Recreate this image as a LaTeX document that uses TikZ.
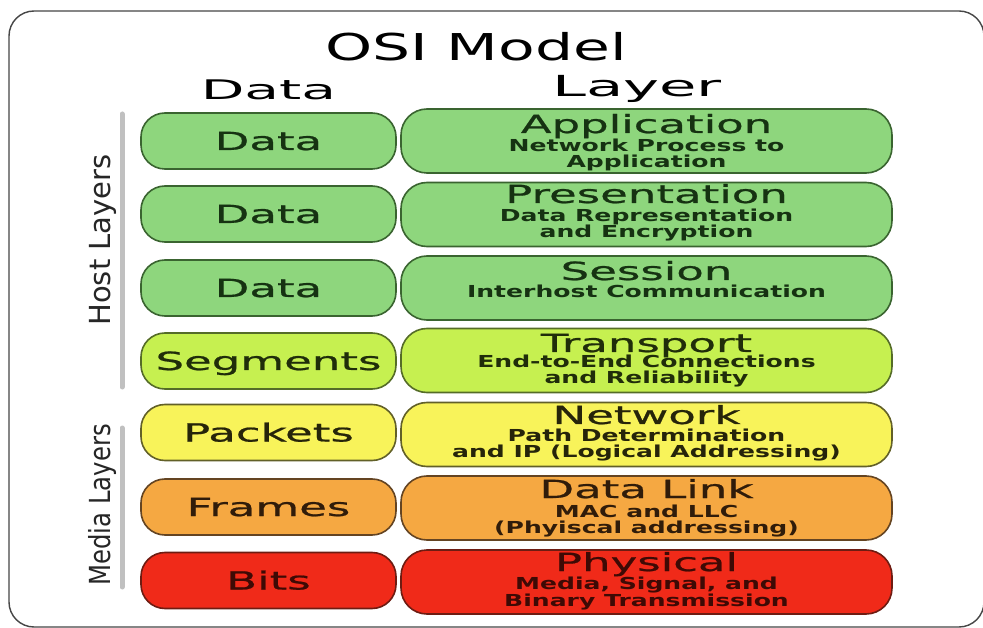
\documentclass[tikz,border=0pt]{standalone}
\usepackage{fontspec}
\setmainfont{DejaVu Sans}
\newfontfamily\fTitle[FakeStretch=1.62]{DejaVu Sans}
\newfontfamily\fHead[FakeStretch=2.1]{DejaVu Sans}
\newfontfamily\fBox[FakeStretch=1.8,FakeBold=0.8]{DejaVu Sans}
\newfontfamily\fSub[FakeStretch=1.52]{DejaVu Sans}
\newfontfamily\fSide{DejaVu Sans}
\definecolor{grF}{RGB}{142,214,125}\definecolor{grB}{RGB}{58,100,48}\definecolor{grT}{RGB}{22,50,18}
\definecolor{liF}{RGB}{198,240,80}\definecolor{liB}{RGB}{85,108,40}\definecolor{liT}{RGB}{32,45,10}
\definecolor{yeF}{RGB}{248,243,90}\definecolor{yeB}{RGB}{98,96,40}\definecolor{yeT}{RGB}{38,36,10}
\definecolor{orF}{RGB}{245,168,66}\definecolor{orB}{RGB}{100,68,34}\definecolor{orT}{RGB}{48,28,10}
\definecolor{rdF}{RGB}{240,42,25}\definecolor{rdB}{RGB}{110,28,18}\definecolor{rdT}{RGB}{62,10,5}
\definecolor{frameC}{RGB}{70,70,70}
\definecolor{barC}{RGB}{192,192,192}
\begin{document}
\begin{tikzpicture}[x=1pt,y=-1pt,
  dbox/.style={draw=#1B, fill=#1F, line width=1.6pt, rounded corners=24pt,
    minimum width=255pt, minimum height=56pt, inner sep=0pt},
  lbox/.style={draw=#1B, fill=#1F, line width=1.6pt, rounded corners=26pt,
    minimum width=491pt, minimum height=64pt, inner sep=0pt},
  boxtxt/.style={text=#1T, font=\fBox\fontsize{25}{25}\selectfont, anchor=base, inner sep=0pt},
  subtxt/.style={text=#1T, font=\fSub\bfseries\fontsize{16.5}{16.5}\selectfont, anchor=base, inner sep=0pt},
  sidebar/.style={draw=barC, line width=5pt, line cap=round},
  sidetxt/.style={text=black!85, font=\fSide\fontsize{29}{29}\selectfont, rotate=90, anchor=base, inner sep=0pt}]
\useasboundingbox (0,0) rectangle (983,628);
\fill[white] (0,0) rectangle (983,628);
\draw[draw=frameC, line width=1.4pt, rounded corners=25pt] (9,11) rectangle (984,627);

% headings
\node[font=\fTitle\fontsize{37}{37}\selectfont, anchor=base, inner sep=0pt] (title) at (476,61) {OSI Model};
\node[font=\fHead\fontsize{27}{27}\selectfont, anchor=base, inner sep=0pt] (hdata) at (268.5,100) {Data};
\node[font=\fHead\fontsize{29}{29}\selectfont, anchor=base, inner sep=0pt] (hlayer) at (637,97) {Layer};

% side bars and labels
\coordinate (hb1) at (122,114); \coordinate (hb2) at (122,387);
\coordinate (mb1) at (122,428); \coordinate (mb2) at (122,587);
\draw[sidebar] (hb1) -- (hb2);
\draw[sidebar] (mb1) -- (mb2);
\node[sidetxt] (host) at (110,240) {Host Layers};
\node[sidetxt] (media) at (110,505) {\scalebox{0.84}[1]{Media Layers}};

% row 1
\node[dbox=gr] (d1) at (268.5,141) {};
\node[lbox=gr] (l1) at (646.5,141) {};
\node[boxtxt=gr] (dt1) at (268.5,150) {Data};
\node[boxtxt=gr] (lt1) at (646.5,133) {Application};
\node[subtxt=gr] (ls1a) at (646.5,152) {Network Process to};
\node[subtxt=gr] (ls1b) at (646.5,168) {Application};
% row 2
\node[dbox=gr] (d2) at (268.5,214) {};
\node[lbox=gr] (l2) at (646.5,214.5) {};
\node[boxtxt=gr] (dt2) at (268.5,223) {Data};
\node[boxtxt=gr] (lt2) at (646.5,203) {Presentation};
\node[subtxt=gr] (ls2a) at (646.5,222) {Data Representation};
\node[subtxt=gr] (ls2b) at (646.5,238) {and Encryption};
% row 3
\node[dbox=gr] (d3) at (268.5,288) {};
\node[lbox=gr] (l3) at (646.5,288) {};
\node[boxtxt=gr] (dt3) at (268.5,297) {Data};
\node[boxtxt=gr] (lt3) at (646.5,280) {Session};
\node[subtxt=gr] (ls3a) at (646.5,298) {Interhost Communication};
% row 4
\node[dbox=li] (d4) at (268.5,361) {};
\node[lbox=li] (l4) at (646.5,360.5) {};
\node[boxtxt=li] (dt4) at (268.5,370) {Segments};
\node[boxtxt=li] (lt4) at (646.5,352) {Transport};
\node[subtxt=li] (ls4a) at (646.5,368) {End-to-End Connections};
\node[subtxt=li] (ls4b) at (646.5,384) {and Reliability};
% row 5
\node[dbox=ye] (d5) at (268.5,432.5) {};
\node[lbox=ye] (l5) at (646.5,434.5) {};
\node[boxtxt=ye] (dt5) at (268.5,441.5) {Packets};
\node[boxtxt=ye] (lt5) at (646.5,424) {Network};
\node[subtxt=ye] (ls5a) at (646.5,441) {Path Determination};
\node[subtxt=ye] (ls5b) at (646.5,457) {and IP (Logical Addressing)};
% row 6
\node[dbox=or] (d6) at (268.5,507) {};
\node[lbox=or] (l6) at (646.5,508) {};
\node[boxtxt=or] (dt6) at (268.5,516) {Frames};
\node[boxtxt=or] (lt6) at (646.5,498) {Data Link};
\node[subtxt=or] (ls6a) at (646.5,517) {MAC and LLC};
\node[subtxt=or] (ls6b) at (646.5,533) {(Phyiscal addressing)};
% row 7
\node[dbox=rd] (d7) at (268.5,580.5) {};
\node[lbox=rd] (l7) at (646.5,582) {};
\node[boxtxt=rd] (dt7) at (268.5,589.5) {Bits};
\node[boxtxt=rd] (lt7) at (646.5,571) {Physical};
\node[subtxt=rd] (ls7a) at (646.5,589) {Media, Signal, and};
\node[subtxt=rd] (ls7b) at (646.5,606) {Binary Transmission};
\end{tikzpicture}
\end{document}
